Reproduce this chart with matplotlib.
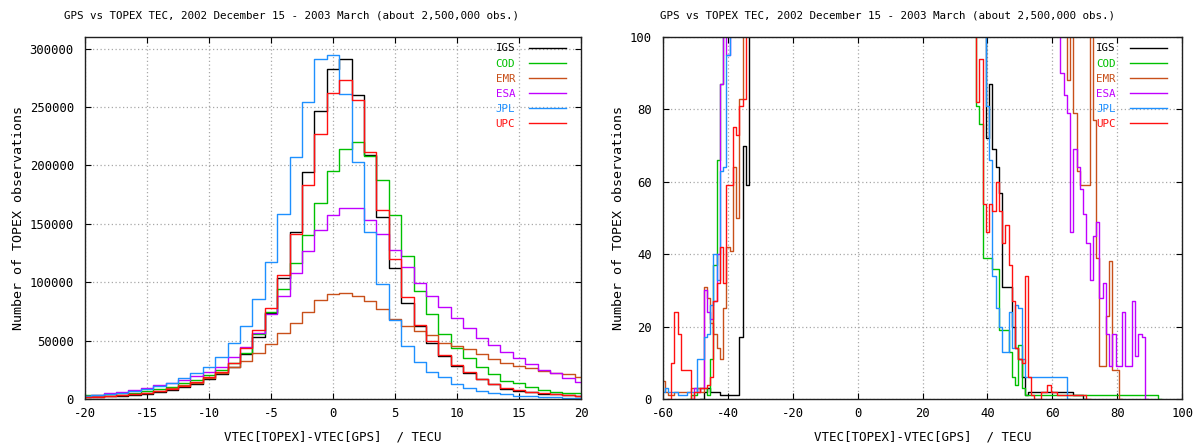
import numpy as np
import matplotlib
matplotlib.use('Agg')
import matplotlib.pyplot as plt

# ---- left panel: 1 TECU bins centred on -20..20, counts in thousands
bins = np.arange(-20, 21)
igs = np.array([1.4, 1.7, 2.3, 2.9, 3.4, 4.3, 5.7, 7.7, 10.0, 12.9, 16.9, 21.1, 27.7, 38.6,
                52.9, 74.0, 103.4, 143.4, 194.3, 246.3, 283.0, 291.3, 260.7, 209.3, 155.8,
                112.0, 82.0, 62.6, 48.3, 37.1, 28.6, 22.6, 16.9, 12.6, 8.9, 7.1, 5.7, 4.6,
                4.0, 3.4, 2.6]) * 1000
cod = np.array([3.1, 3.7, 4.3, 4.9, 5.4, 7.1, 8.6, 10.6, 13.4, 16.3, 20.6, 24.9, 31.1, 39.7,
                55.7, 74.3, 94.3, 116.3, 140.3, 167.7, 195.0, 214.0, 220.0, 208.0, 187.8,
                157.7, 122.6, 92.9, 72.9, 55.4, 44.0, 35.4, 27.7, 21.7, 15.0, 13.5, 10.0, 7.7,
                6.3, 5.4, 4.9]) * 1000
emr = np.array([1.7, 2.3, 2.9, 3.4, 4.3, 5.4, 7.1, 9.1, 11.7, 14.0, 17.7, 22.0, 27.7, 32.6,
                39.7, 47.1, 56.9, 65.4, 74.3, 84.9, 90.0, 91.1, 88.6, 84.0, 76.9, 68.6, 62.6,
                58.3, 54.9, 48.3, 45.7, 42.9, 38.6, 34.0, 31.1, 28.3, 26.3, 24.3, 22.6, 21.4,
                18.6]) * 1000
esa = np.array([2.6, 3.7, 4.9, 6.3, 7.7, 9.7, 12.0, 14.0, 16.3, 20.0, 23.4, 27.7, 35.7, 44.9,
                56.3, 72.6, 88.6, 107.7, 126.6, 144.3, 157.4, 163.4, 163.4, 153.4, 141.4,
                127.4, 112.9, 99.1, 88.6, 79.1, 69.1, 60.6, 52.6, 46.3, 40.0, 34.9, 29.7,
                24.9, 22.0, 17.7, 14.3]) * 1000
jpl = np.array([2.6, 3.4, 4.3, 5.4, 6.9, 8.9, 11.1, 14.0, 17.7, 22.0, 27.7, 36.3, 48.3, 62.9,
                85.6, 117.0, 158.3, 207.4, 254.6, 291.3, 294.4, 261.5, 202.8, 143.4, 98.8,
                67.3, 45.7, 32.0, 22.9, 18.6, 12.9, 9.7, 7.1, 5.4, 4.3, 2.9, 2.3, 1.7, 1.4,
                1.1, 1.1]) * 1000
upc = np.array([1.4, 2.0, 2.6, 3.1, 4.0, 4.9, 6.9, 8.6, 11.4, 14.9, 18.6, 23.4, 31.1, 43.4,
                59.1, 77.6, 106.3, 141.4, 183.1, 227.1, 261.8, 273.0, 255.8, 211.8, 162.2,
                120.0, 87.6, 63.4, 50.0, 38.0, 29.5, 23.0, 17.5, 13.0, 9.5, 7.5, 6.0, 5.0,
                4.2, 3.5, 2.8]) * 1000

# ---- right panel: tails of the same histograms (first bin, counts)
OVER = 150  # above the top of the zoomed axis
igs_lo = (-48, [0, 2, 3, 2, 2, 2, 1, 1, 1, 1, 1, 1, 17, 70, 59, OVER])
igs_hi = (39, [OVER, 72, 87, 69, 64, 57, 31, 31, 31, 20, 14, 11, 6, 1, 2, 2, 2, 2, 2, 2,
               2, 2, 2, 2, 2, 2, 2, 2, 1, 1, 1, 0])
cod_lo = (-52, [0, 1, 1, 3, 3, 3, 1, 11, 37, 66, 87, OVER])
cod_hi = (36, [OVER, 81, 76, 39, 39, 39, 36, 36, 19, 19, 19, 13, 6, 4, 15, 3, 1, 1, 1, 1,
               1, 1, 1, 1, 1, 1, 1, 1, 1, 1, 1, 1, 1, 1, 1, 1, 1, 1, 1, 1, 1, 1, 1, 1,
               1, 1, 1, 1, 1, 1, 1, 1, 1, 1, 1, 1, 1, 0])
emr_lo = (-60, [5, 2, 1, 1, 2, 2, 2, 2, 2, 3, 3, 3, 2, 31, 28, 21, 18, 14, 11, 25, 42, 41,
                64, 50, 83, OVER])
emr_hi = (64, [OVER, 88, OVER, 79, 63, 59, 59, 59, OVER, 77, 39, 9, 9, 23, 38, 8, 8, 0])
esa_lo = (-51, [0, 3, 2, 3, 30, 24, 22, 27, 40, 87, OVER, 95, OVER])
esa_hi = (62, [OVER, 90, 84, 79, 46, 69, 64, 58, 51, 43, 33, 45, 49, 28, 32, 18, 9, 18, 9,
               9, 24, 9, 9, 27, 12, 18, 17, 0])
jpl_lo = (-60, [2, 3, 2, 2, 2, 1, 1, 1, 2, 2, 2, 11, 11, 17, 18, 26, 40, 33, 63, 64, 95, OVER])
jpl_hi = (39, [OVER, 81, 66, 34, 25, 20, 13, 13, 24, 14, 26, 25, 11, 6, 6, 6, 6, 6, 6, 6,
               6, 6, 6, 6, 6, 6, 0])
upc_lo = (-58, [0, 10, 24, 18, 8, 8, 8, 0, 2, 2, 3, 3, 4, 6, 27, 32, 42, 32, 59, 59, 75, 73,
                81, 83, OVER])
upc_hi = (36, [OVER, 82, 94, 54, 46, 54, 52, 60, 52, 43, 48, 37, 27, 14, 11, 10, 34, 6, 1,
               0, 0, 2, 2, 4, 2, 2, 1, 1, 1, 1, 1, 1, 1, 1, 1, 0])

names = ['IGS', 'COD', 'EMR', 'ESA', 'JPL', 'UPC']
colors = ['#000000', '#00c000', '#c8501a', '#c000ff', '#1e90ff', '#ff1010']
left_counts = [igs, cod, emr, esa, jpl, upc]
tails = [(igs_lo, igs_hi), (cod_lo, cod_hi), (emr_lo, emr_hi),
         (esa_lo, esa_hi), (jpl_lo, jpl_hi), (upc_lo, upc_hi)]

title = 'GPS vs TOPEX TEC, 2002 December 15 - 2003 March (about 2,500,000 obs.)'
xlabel = 'VTEC[TOPEX]-VTEC[GPS]  / TECU'
ylabel = 'Number of TOPEX observations'

plt.rcParams['font.family'] = ['DejaVu Sans Mono']
plt.rcParams['font.size'] = 8
plt.rcParams['axes.unicode_minus'] = False


def hist_steps(ax, first, vals, color, label=None):
    vals = np.asarray(vals, dtype=float)
    edges = np.arange(len(vals) + 1) + first - 0.5
    ax.step(edges, np.append(vals, vals[-1]), where='post', color=color, lw=1.0,
            label=label)


def style_axes(ax):
    ax.grid(True, color='#a8a8a8', linestyle=(0, (1, 2)), linewidth=0.9)
    ax.set_axisbelow(True)
    ax.tick_params(direction='in', length=4, width=0.8, top=True, right=True,
                   labelsize=8.8, colors='#000000')
    ax.tick_params(axis='x', pad=6)
    ax.tick_params(axis='y', pad=8)
    for s in ax.spines.values():
        s.set_color('#202020')
        s.set_linewidth(1.0)
        s.set_zorder(3)
    ax.legend(loc='upper right', bbox_to_anchor=(0.97, 0.982), markerfirst=False,
              frameon=False, labelcolor='linecolor', handlelength=3.4,
              handletextpad=1.3, labelspacing=0.47, borderpad=0, borderaxespad=0,
              fontsize=7.8)


fig = plt.figure(figsize=(11.99, 4.45), dpi=100)
ax1 = fig.add_axes([0.0709, 0.1034, 0.4137, 0.8135])
ax2 = fig.add_axes([0.5530, 0.1034, 0.4329, 0.8135])

for name, col, counts in zip(names, colors, left_counts):
    hist_steps(ax1, bins[0], counts, col, name)
ax1.set_xlim(-20, 20)
ax1.set_ylim(0, 310000)
ax1.set_xticks(np.arange(-20, 21, 5))
ax1.set_yticks(np.arange(0, 300001, 50000))
style_axes(ax1)

for name, col, (lo, hi) in zip(names, colors, tails):
    hist_steps(ax2, lo[0], lo[1], col, name)
    hist_steps(ax2, hi[0], hi[1], col)
ax2.set_xlim(-60, 100)
ax2.set_ylim(0, 100)
ax2.set_xticks(np.arange(-60, 101, 20))
ax2.set_yticks(np.arange(0, 101, 20))
style_axes(ax2)

for ax, ylx, tx in [(ax1, -0.121, 291 / 1199), (ax2, -0.073, 888 / 1199)]:
    ax.set_xlabel(xlabel, fontsize=9)
    ax.xaxis.set_label_coords(0.5, -0.086)
    ax.set_ylabel(ylabel, fontsize=9.6)
    ax.yaxis.set_label_coords(ylx, 0.5)
    fig.text(tx, 1 - 15 / 445, title, ha='center', va='center', fontsize=7.8)

fig.savefig('out.png', dpi=100)
